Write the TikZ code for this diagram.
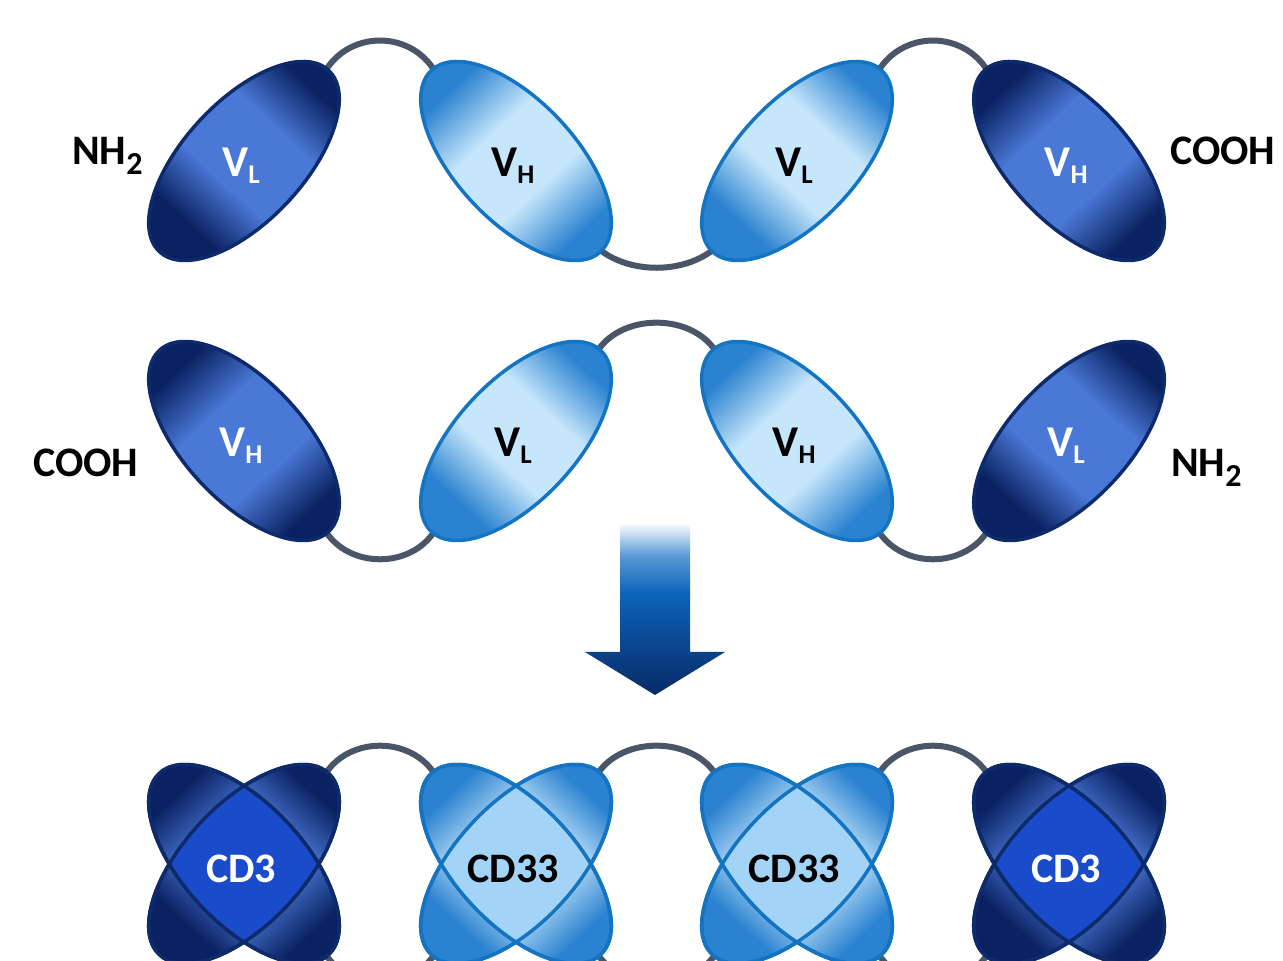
\documentclass[tikz,border=0pt]{standalone}
\usepackage{fontspec}
\setmainfont{Carlito}
\usetikzlibrary{shapes.geometric,calc,backgrounds}

\definecolor{dkend}{HTML}{0A2262}
\definecolor{dkmid}{HTML}{4A78D6}
\definecolor{dkline}{HTML}{0D2A6A}
\definecolor{dkcore}{HTML}{1A4BCB}
\definecolor{ltend}{HTML}{2A82D0}
\definecolor{ltmid}{HTML}{C6E6FB}
\definecolor{ltline}{HTML}{1274C2}
\definecolor{ltcore}{HTML}{A3D4F7}
\definecolor{linkc}{HTML}{4A5567}
\definecolor{ar1}{HTML}{F4F8FC}
\definecolor{ar2}{HTML}{5A9AD6}
\definecolor{ar3}{HTML}{0C64BA}
\definecolor{ar4}{HTML}{0A4690}
\definecolor{ar5}{HTML}{082A66}

\pgfdeclarehorizontalshading{dkshade}{100bp}{color(0bp)=(dkend); color(28bp)=(dkend); color(41bp)=(dkmid); color(59bp)=(dkmid); color(72bp)=(dkend); color(100bp)=(dkend)}
\pgfdeclarehorizontalshading{ltshade}{100bp}{color(0bp)=(ltend); color(28bp)=(ltend); color(42bp)=(ltmid); color(58bp)=(ltmid); color(72bp)=(ltend); color(100bp)=(ltend)}
\pgfdeclareverticalshading{arrshade}{100bp}{color(0bp)=(ar5); color(25bp)=(ar5); color(40bp)=(ar4); color(55bp)=(ar3); color(66bp)=(ar2); color(75bp)=(ar1); color(100bp)=(ar1)}

\newcommand\vsub[1]{\raisebox{-7pt}{\fontsize{27}{30}\selectfont #1}}
\newcommand\nsub[1]{\raisebox{-10pt}{\fontsize{32}{34}\selectfont #1}}

\newcommand\xblob[4]{% name, x, y, dk/lt
  \node[#4, rotate=47, shading angle=47] (#1a) at (#2,#3) {};
  \node[#4, rotate=-47, shading angle=-47] (#1b) at (#2,#3) {};
  \begin{scope}
    \clip[rotate around={47:(#2,#3)}] (#2,#3) ellipse [x radius=124pt, y radius=60pt];
    \fill[#4core, rotate around={-47:(#2,#3)}] (#2,#3) ellipse [x radius=124pt, y radius=60pt];
  \end{scope}
  \draw[#4line, line width=3.5pt, rotate around={47:(#2,#3)}] (#2,#3) ellipse [x radius=124pt, y radius=60pt];
  \draw[#4line, line width=3.5pt, rotate around={-47:(#2,#3)}] (#2,#3) ellipse [x radius=124pt, y radius=60pt];
}

\tikzset{
  blob/.style={ellipse, minimum width=248pt, minimum height=120pt, inner sep=0pt, outer sep=0pt, line width=3.5pt},
  dk/.style={blob, draw=dkline, shade, shading=dkshade},
  lt/.style={blob, draw=ltline, shade, shading=ltshade},
  link/.style={draw=linkc, line width=6pt, line cap=round},
  vlab/.style={anchor=base, inner sep=0pt, font=\fontsize{44}{50}\selectfont\bfseries},
  side/.style={anchor=base west, inner sep=0pt, font=\fontsize{42}{50}\selectfont\bfseries},
  cdlab/.style={anchor=base, inner sep=0pt, font=\fontsize{42}{50}\selectfont\bfseries},
}

\begin{document}
\begin{tikzpicture}[x=1pt,y=1pt]
\useasboundingbox (0,0) rectangle (1283,961);
\clip (0,0) rectangle (1283,961);

% ---------- row 1 ----------
\node[dk, rotate=47, shading angle=47]  (A1) at (244,800) {};
\node[lt, rotate=-47, shading angle=-47] (A2) at (516,800) {};
\node[lt, rotate=47, shading angle=47]  (A3) at (797,800) {};
\node[dk, rotate=-47, shading angle=-47] (A4) at (1069,800) {};
\node[vlab, text=white] (tA1) at (241,784) {V\vsub{L}};
\node[vlab, text=black] (tA2) at (513,784) {V\vsub{H}};
\node[vlab, text=black] (tA3) at (794,784) {V\vsub{L}};
\node[vlab, text=white] (tA4) at (1066,784) {V\vsub{H}};
\node[side] (n1) at (72,796) {NH\nsub{2}};
\node[side] (c1) at (1170,796) {COOH};

% ---------- row 2 ----------
\node[dk, rotate=-47, shading angle=-47] (B1) at (244,520) {};
\node[lt, rotate=47, shading angle=47]  (B2) at (516,520) {};
\node[lt, rotate=-47, shading angle=-47] (B3) at (797,520) {};
\node[dk, rotate=47, shading angle=47]  (B4) at (1069,520) {};
\node[vlab, text=white] (tB1) at (241,504) {V\vsub{H}};
\node[vlab, text=black] (tB2) at (513,504) {V\vsub{L}};
\node[vlab, text=black] (tB3) at (794,504) {V\vsub{H}};
\node[vlab, text=white] (tB4) at (1066,504) {V\vsub{L}};
\node[side] (c2) at (33,484) {COOH};
\node[side] (n2) at (1171,484) {NH\nsub{2}};

% ---------- arrow ----------
\shade[shading=arrshade] (620,436) -- (690,436) -- (690,309) -- (725,309) -- (655,266) -- (585,309) -- (620,309) -- cycle;

% ---------- row 3 ----------
\xblob{C1}{244}{97}{dk}
\xblob{C2}{516}{97}{lt}
\xblob{C3}{797}{97}{lt}
\xblob{C4}{1069}{97}{dk}
\node[cdlab, text=white] (tC1) at (241,78) {CD3};
\node[cdlab, text=black] (tC2) at (513,78) {CD33};
\node[cdlab, text=black] (tC3) at (794,78) {CD33};
\node[cdlab, text=white] (tC4) at (1066,78) {CD3};

% ---------- linkers ----------
\begin{scope}[on background layer]
  \draw[link] ($(A1.center)!0.92!(A1.east)$) to[out=65,in=115,looseness=1.2] ($(A2.center)!0.92!(A2.west)$);
  \draw[link] ($(A2.center)!0.92!(A2.east)$) to[out=-45,in=-135,looseness=0.9] ($(A3.center)!0.92!(A3.west)$);
  \draw[link] ($(A3.center)!0.92!(A3.east)$) to[out=65,in=115,looseness=1.2] ($(A4.center)!0.92!(A4.west)$);

  \draw[link] ($(B1.center)!0.92!(B1.east)$) to[out=-65,in=-115,looseness=1.13] ($(B2.center)!0.92!(B2.west)$);
  \draw[link] ($(B2.center)!0.92!(B2.east)$) to[out=65,in=115,looseness=1.05] ($(B3.center)!0.92!(B3.west)$);
  \draw[link] ($(B3.center)!0.92!(B3.east)$) to[out=-65,in=-115,looseness=1.13] ($(B4.center)!0.92!(B4.west)$);

  \draw[link] ($(C1a.center)!0.92!(C1a.east)$) to[out=65,in=115,looseness=1.13] ($(C2b.center)!0.92!(C2b.west)$);
  \draw[link] ($(C2a.center)!0.92!(C2a.east)$) to[out=65,in=115,looseness=1.05] ($(C3b.center)!0.92!(C3b.west)$);
  \draw[link] ($(C3a.center)!0.92!(C3a.east)$) to[out=65,in=115,looseness=1.13] ($(C4b.center)!0.92!(C4b.west)$);
  \draw[link] ($(C1b.center)!0.92!(C1b.east)$) to[out=-65,in=-115,looseness=1.13] ($(C2a.center)!0.92!(C2a.west)$);
  \draw[link] ($(C2b.center)!0.92!(C2b.east)$) to[out=-65,in=-115,looseness=1.05] ($(C3a.center)!0.92!(C3a.west)$);
  \draw[link] ($(C3b.center)!0.92!(C3b.east)$) to[out=-65,in=-115,looseness=1.13] ($(C4a.center)!0.92!(C4a.west)$);
\end{scope}
\end{tikzpicture}
\end{document}
